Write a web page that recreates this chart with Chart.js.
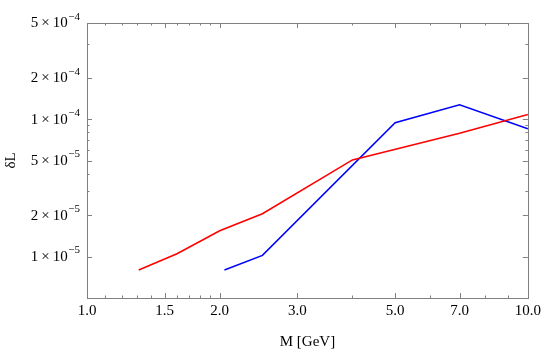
<!DOCTYPE html>
<html>
<head>
<meta charset="utf-8">
<script src="https://cdn.jsdelivr.net/npm/chart.js@4"></script>
<style>
  html, body { margin: 0; padding: 0; background: #fff; }
</style>
</head>
<body>
<canvas id="chart" width="545" height="351"></canvas>
<script>
// Values (log-log plot)
const redMass = [1.31, 1.6, 2.0, 2.5, 4.0, 7.0, 10.0];
const redDeltaL = [8.0e-6, 1.05e-5, 1.54e-5, 2.05e-5, 5.05e-5, 7.9e-5, 1.08e-4];
const blueMass = [2.05, 2.5, 5.0, 7.0, 10.0];
const blueDeltaL = [8.0e-6, 1.02e-5, 9.4e-5, 1.27e-4, 8.5e-5];

const xMajorTicks = [1.0, 1.5, 2.0, 3.0, 5.0, 7.0, 10.0];
const xMinorTicks = [1.1, 1.2, 1.3, 1.4, 1.6, 1.7, 1.8, 1.9, 4.0, 6.0, 8.0, 9.0];
const yMajorTicks = [1e-5, 2e-5, 5e-5, 1e-4, 2e-4, 5e-4];
const yMantissa = ['1', '2', '5', '1', '2', '5'];
const yExponent = ['−5', '−5', '−5', '−4', '−4', '−4'];
const yMinorTicks = [3e-5, 4e-5, 6e-5, 7e-5, 8e-5, 9e-5, 3.5e-4];

const serif = "'Liberation Serif', 'Times New Roman', serif";
const frameColor = '#808080';

// Mathematica-style frame with ticks pointing inwards on all four sides,
// plus y labels written as m×10^e with a real superscript
const frameTicks = {
  id: 'frameTicks',
  afterDatasetsDraw(chart) {
    const { ctx, chartArea: a, scales } = chart;
    const x = scales.x, y = scales.y;
    ctx.save();
    ctx.strokeStyle = frameColor;
    ctx.lineWidth = 1;
    ctx.strokeRect(Math.round(a.left) + 0.5, Math.round(a.top) + 0.5,
      Math.round(a.right - a.left), Math.round(a.bottom - a.top));
    ctx.beginPath();
    const xTick = (v, len) => {
      const px = Math.round(x.getPixelForValue(v)) + 0.5;
      ctx.moveTo(px, a.bottom); ctx.lineTo(px, a.bottom - len);
      ctx.moveTo(px, a.top); ctx.lineTo(px, a.top + len);
    };
    const yTick = (v, len) => {
      const py = Math.round(y.getPixelForValue(v)) + 0.5;
      ctx.moveTo(a.left, py); ctx.lineTo(a.left + len, py);
      ctx.moveTo(a.right, py); ctx.lineTo(a.right - len, py);
    };
    xMajorTicks.forEach(v => xTick(v, 5));
    xMinorTicks.forEach(v => xTick(v, 2.5));
    yMajorTicks.forEach(v => yTick(v, 5));
    yMinorTicks.forEach(v => yTick(v, 2.5));
    ctx.stroke();

    // y tick labels
    ctx.fillStyle = '#000';
    ctx.textBaseline = 'middle';
    ctx.textAlign = 'left';
    const rightEdge = a.left - 7.5;
    yMajorTicks.forEach((v, i) => {
      const py = y.getPixelForValue(v);
      const base = yMantissa[i] + '\u2009×\u200910';
      ctx.font = '15px ' + serif;
      const wBase = ctx.measureText(base).width;
      ctx.font = '11px ' + serif;
      const wSup = ctx.measureText(yExponent[i]).width;
      const x0 = rightEdge - wBase - wSup;
      ctx.font = '15px ' + serif;
      ctx.fillText(base, x0, py + 0.5);
      ctx.font = '11px ' + serif;
      ctx.fillText(yExponent[i], x0 + wBase + 0.5, py - 6);
    });
    ctx.restore();
  }
};

new Chart(document.getElementById('chart'), {
  type: 'line',
  data: {
    datasets: [
      {
        data: redMass.map((m, i) => ({ x: m, y: redDeltaL[i] })),
        borderColor: '#ff0000',
        borderWidth: 1.6,
        pointRadius: 0,
        fill: false,
        tension: 0
      },
      {
        data: blueMass.map((m, i) => ({ x: m, y: blueDeltaL[i] })),
        borderColor: '#0000ff',
        borderWidth: 1.6,
        pointRadius: 0,
        fill: false,
        tension: 0
      }
    ]
  },
  options: {
    responsive: false,
    animation: false,
    layout: { padding: { top: 23, right: 15, left: 0, bottom: 0 } },
    plugins: { legend: { display: false }, tooltip: { enabled: false } },
    scales: {
      x: {
        type: 'logarithmic',
        min: 1,
        max: 10,
        grid: { display: false, drawTicks: false },
        border: { display: false },
        afterBuildTicks: (s) => { s.ticks = xMajorTicks.map(v => ({ value: v })); },
        afterFit: (s) => { s.height = 53; },
        ticks: {
          autoSkip: false,
          maxRotation: 0,
          padding: 4,
          color: '#000',
          font: { family: serif, size: 15 },
          callback: (v) => Number(v).toFixed(1)
        },
        title: {
          display: true,
          text: 'M [GeV]',
          color: '#000',
          font: { family: serif, size: 15 },
          padding: 0
        }
      },
      y: {
        type: 'logarithmic',
        min: 5e-6,
        max: 5e-4,
        grid: { display: false, drawTicks: false },
        border: { display: false },
        afterBuildTicks: (s) => { s.ticks = yMajorTicks.map(v => ({ value: v })); },
        afterFit: (s) => { s.width = 87; },
        ticks: { display: false },
        title: {
          display: true,
          text: 'δL',
          color: '#000',
          font: { family: serif, size: 15 },
          padding: { top: 2, bottom: 0 }
        }
      }
    }
  },
  plugins: [frameTicks]
});
</script>
</body>
</html>
